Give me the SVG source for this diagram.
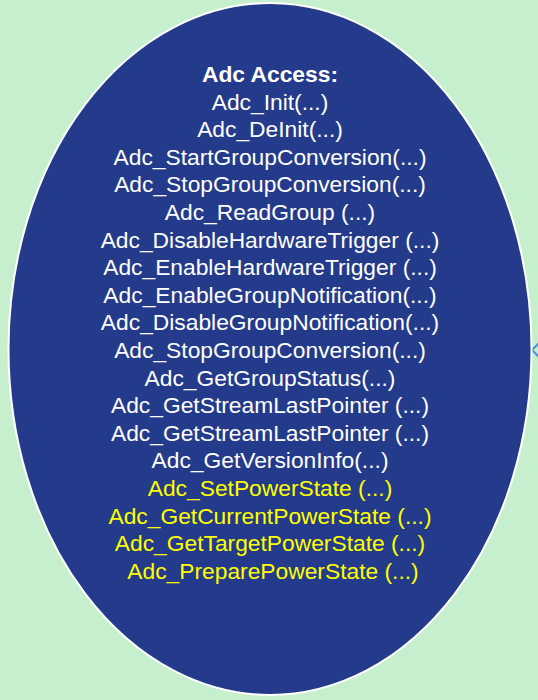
<svg xmlns="http://www.w3.org/2000/svg" width="538" height="700" viewBox="0 0 538 700">
<style>
.t{font-family:"Liberation Sans",Arial,sans-serif;font-size:22.8px;fill:#ffffff;text-anchor:middle}
.b{font-weight:bold}
.y{fill:#ffff00}
</style>
<rect width="538" height="700" fill="#c6efce"/>
<g id="connectors">
<polyline points="539,343 532,350 539,357" fill="none" stroke="#4f8fd6" stroke-width="2"/>
</g>
<g id="adc-access">
<ellipse cx="270" cy="349" rx="261.5" ry="346" fill="#233b8a" stroke="#ffffff" stroke-width="2"/>
<text class="t b" x="270" y="82">Adc Access:</text>
<text class="t" x="270" y="109.6">Adc_Init(...)</text>
<text class="t" x="270" y="137.2">Adc_DeInit(...)</text>
<text class="t" x="270" y="164.8">Adc_StartGroupConversion(...)</text>
<text class="t" x="270" y="192.4">Adc_StopGroupConversion(...)</text>
<text class="t" x="270" y="220">Adc_ReadGroup (...)</text>
<text class="t" x="270" y="247.6">Adc_DisableHardwareTrigger (...)</text>
<text class="t" x="270" y="275.2">Adc_EnableHardwareTrigger (...)</text>
<text class="t" x="270" y="302.8">Adc_EnableGroupNotification(...)</text>
<text class="t" x="270" y="330.4">Adc_DisableGroupNotification(...)</text>
<text class="t" x="270" y="358">Adc_StopGroupConversion(...)</text>
<text class="t" x="270" y="385.6">Adc_GetGroupStatus(...)</text>
<text class="t" x="270" y="413.2">Adc_GetStreamLastPointer (...)</text>
<text class="t" x="270" y="440.8">Adc_GetStreamLastPointer (...)</text>
<text class="t" x="270" y="468.4">Adc_GetVersionInfo(...)</text>
<text class="t y" x="270" y="496">Adc_SetPowerState (...)</text>
<text class="t y" x="270" y="523.6">Adc_GetCurrentPowerState (...)</text>
<text class="t y" x="270" y="551.2">Adc_GetTargetPowerState (...)</text>
<text class="t y" x="273" y="578.8">Adc_PreparePowerState (...)</text>
</g>
</svg>
